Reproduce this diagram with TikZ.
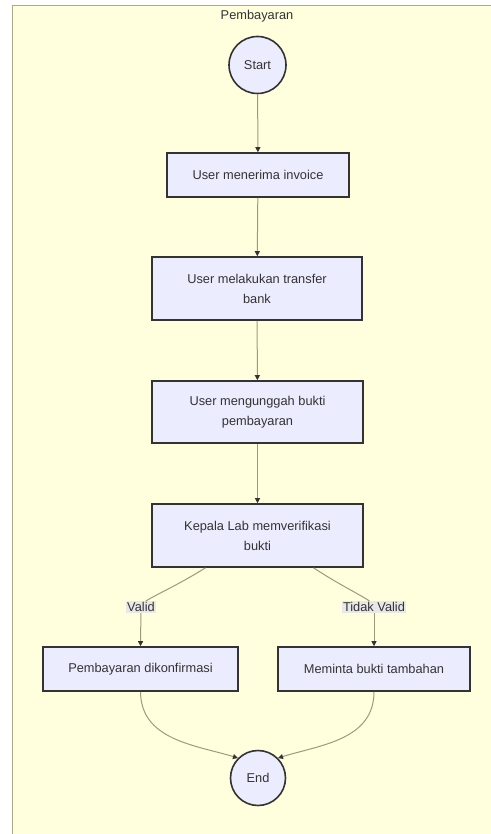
\documentclass[tikz,border=0pt]{standalone}
\usepackage{fontspec}
\setmainfont{Liberation Sans}
\usetikzlibrary{arrows.meta}
\definecolor{clusterbg}{HTML}{FFFFDE}
\definecolor{clusterline}{HTML}{AAAA88}
\definecolor{nodefill}{HTML}{ECECFF}
\definecolor{nodeline}{HTML}{333333}
\definecolor{edgeline}{HTML}{9E9A78}
\definecolor{txt}{HTML}{333333}
\definecolor{lblbg}{HTML}{E8E8E8}
\tikzset{
  base/.style={font=\fontsize{12.8}{20}\selectfont, text=txt},
  procbox/.style={base, draw=nodeline, fill=nodefill, line width=1.6pt, rectangle, align=center, inner sep=0pt},
  termcircle/.style={base, draw=nodeline, fill=nodefill, line width=1.6pt, circle, inner sep=0pt},
  flow/.style={draw=edgeline, line width=1pt, -{Triangle[length=5pt,width=5pt,color=nodeline]}},
  flowplain/.style={draw=edgeline, line width=1pt},
  edgelabel/.style={base, fill=lblbg, inner sep=1pt}
}
\begin{document}
\begin{tikzpicture}[x=1pt,y=-1pt]
\useasboundingbox (0,0) rectangle (490,834);
\fill[clusterbg] (12,6) rectangle (492,838);
\draw[clusterline, line width=1pt] (12,838) -- (12,6) -- (492,6);
\node[base] (title) at (257,16) {Pembayaran};

\node[termcircle, minimum size=57pt] (start) at (257.5,65) {Start};
\node[procbox, minimum width=182pt, minimum height=44pt] (b1) at (258,175) {User menerima invoice};
\node[procbox, minimum width=210pt, minimum height=63pt] (b2) at (257,288.5) {User melakukan transfer\\bank};
\node[procbox, minimum width=211pt, minimum height=62pt] (b3) at (257.5,412) {User mengunggah bukti\\pembayaran};
\node[procbox, minimum width=211pt, minimum height=63pt] (b4) at (257.5,535.5) {Kepala Lab memverifikasi\\bukti};
\node[procbox, minimum width=195pt, minimum height=44pt] (b5) at (140.5,669) {Pembayaran dikonfirmasi};
\node[procbox, minimum width=192pt, minimum height=44pt] (b6) at (374,669) {Meminta bukti tambahan};
\node[termcircle, minimum size=55pt] (end) at (258,778) {End};

\draw[flow] (start) -- (b1);
\draw[flow] (b1) -- (b2);
\draw[flow] (b2) -- (b3);
\draw[flow] (b3) -- (b4);

\coordinate (b4l) at ([xshift=-52pt]b4.south);
\coordinate (b4r) at ([xshift=56pt]b4.south);
\coordinate (vl) at (141,607);
\coordinate (tl) at (374,607);
\draw[flowplain] (b4l) .. controls (165,593) and (141,600) .. (vl);
\draw[flow] (vl) -- (b5.north);
\draw[flowplain] (b4r) .. controls (352,593) and (374,600) .. (tl);
\draw[flow] (tl) -- (b6.north);
\node[edgelabel] (lv) at (vl) {Valid};
\node[edgelabel] (lt) at (tl) {Tidak Valid};

\draw[flow] (b5.south) .. controls (141,740) and (195,745) .. (end.north west);
\draw[flow] (b6.south) .. controls (374,740) and (320,745) .. (end.north east);
\end{tikzpicture}
\end{document}
